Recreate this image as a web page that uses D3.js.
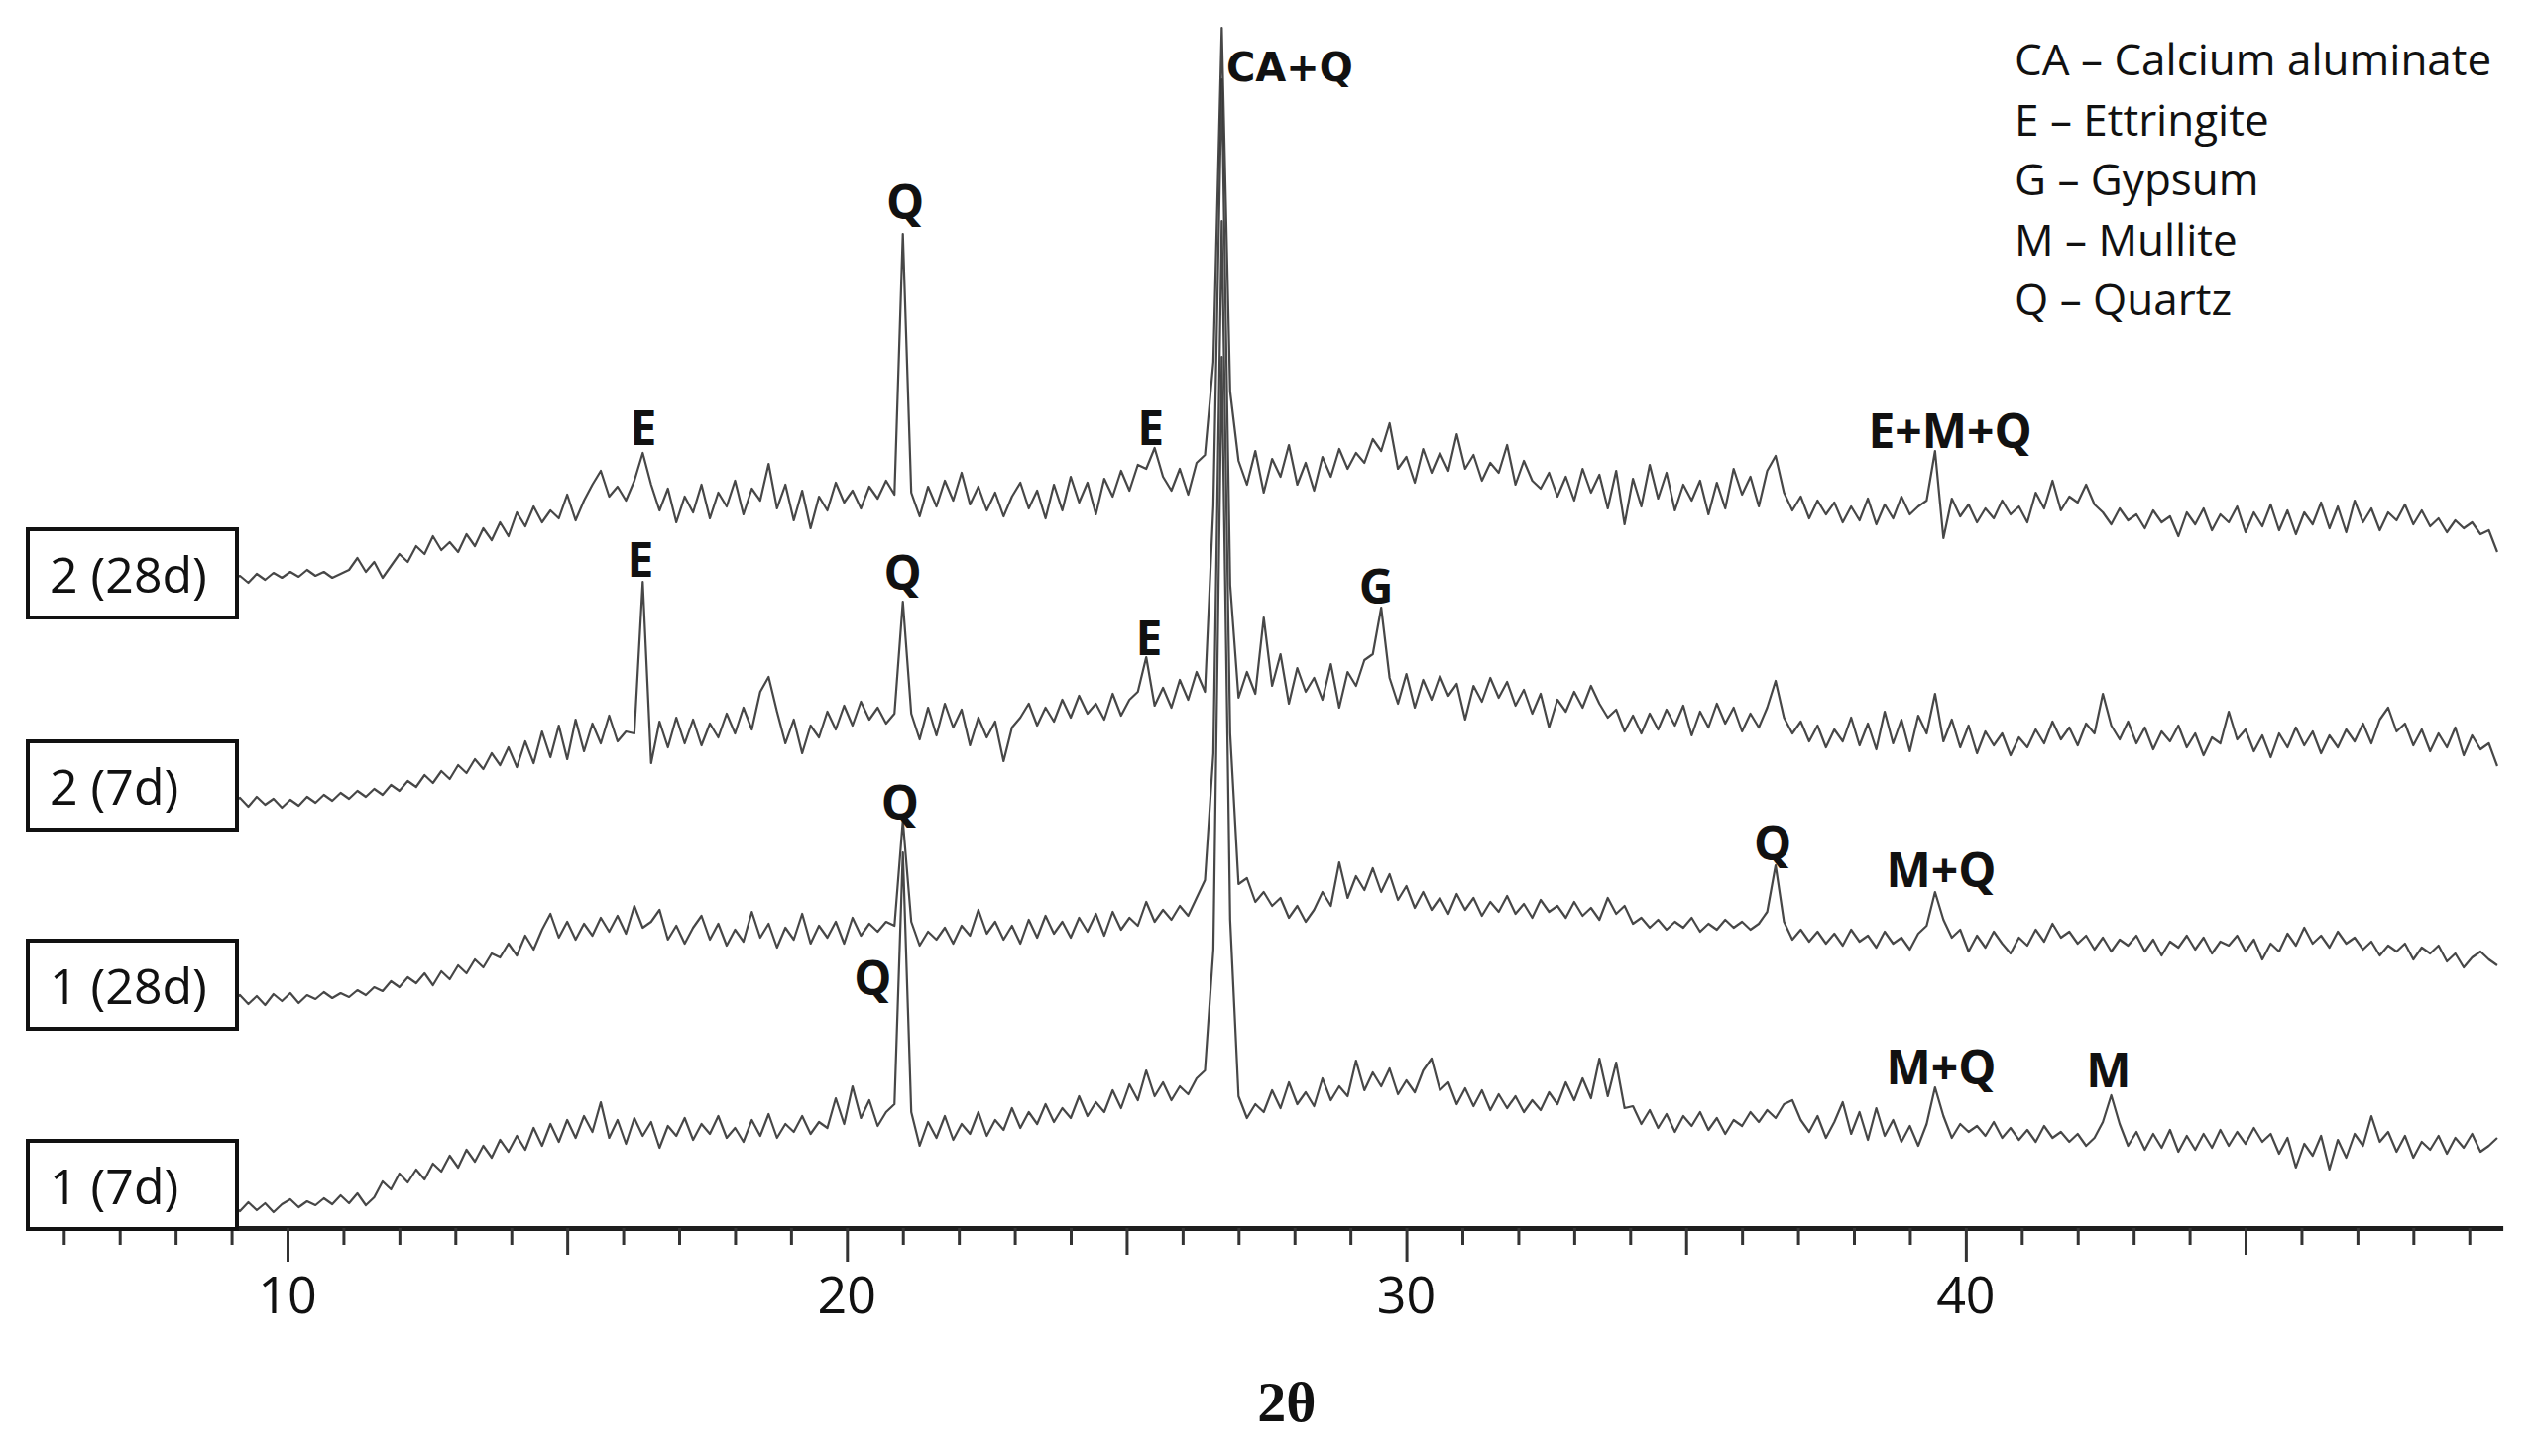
<!DOCTYPE html>
<html lang="en">
<head>
<meta charset="UTF-8">
<title>XRD patterns</title>
<script src="https://d3js.org/d3.v7.min.js"></script>
<style>
  body { margin: 0; background: #fff; }
  svg { display: block; }
</style>
</head>
<body>
<div id="chart"></div>
<script>
const width = 2557, height = 1469;

// scan settings (degrees 2-theta)
const angleStart = 9;
const angleStep = 0.15;

// samples, bottom to top, and the vertical shift of each pattern
const sampleLabels = ["1 (7d)", "1 (28d)", "2 (7d)", "2 (28d)"];
const sampleOffsets = [21, 229, 429, 654];

// intensities (a.u.)
const counts1d7 = [
  2, -4, 5, -3, 4, -5, 3, 8, 0, 6,
  2, 9, 3, 12, 4, 14, 2, 10, 26, 18,
  34, 25, 38, 28, 44, 36, 52, 40, 58, 46,
  62, 50, 68, 56, 72, 58, 80, 62, 84, 66,
  88, 70, 92, 76, 106, 70, 88, 64, 90, 72,
  86, 60, 82, 72, 90, 68, 84, 74, 92, 70,
  80, 66, 88, 72, 94, 70, 84, 76, 92, 74,
  86, 80, 110, 84, 122, 90, 108, 82, 96, 104,
  358, 96, 62, 86, 70, 92, 68, 84, 74, 96,
  72, 88, 78, 100, 80, 96, 84, 104, 86, 100,
  90, 112, 92, 106, 96, 118, 100, 124, 108, 138,
  112, 126, 108, 122, 114, 130, 138, 260, 858, 290,
  112, 90, 104, 96, 118, 100, 126, 104, 116, 102,
  130, 108, 122, 112, 148, 118, 136, 122, 140, 114,
  128, 116, 138, 150, 118, 126, 104, 120, 102, 118,
  98, 114, 100, 112, 96, 108, 98, 116, 104, 126,
  108, 130, 110, 150, 112, 146, 100, 102, 84, 98,
  80, 94, 76, 92, 82, 96, 78, 90, 74, 88,
  82, 96, 86, 98, 90, 104, 108, 88, 76, 92,
  70, 86, 106, 74, 96, 68, 100, 72, 88, 66,
  82, 62, 84, 121, 92, 70, 84, 76, 82, 72,
  86, 70, 80, 68, 78, 66, 82, 70, 76, 66,
  74, 62, 70, 86, 113, 84, 62, 76, 58, 74,
  60, 78, 56, 72, 58, 74, 60, 78, 62, 76,
  64, 80, 66, 74, 54, 70, 40, 64, 52, 72,
  38, 68, 50, 74, 62, 92, 66, 76, 56, 72,
  50, 66, 58, 72, 54, 70, 60, 74, 56, 62,
  70
];

const counts1d28 = [
  0, 6, -3, 5, -4, 7, 0, 8, -2, 6,
  2, 9, 3, 8, 4, 11, 6, 14, 10, 20,
  14, 24, 18, 28, 16, 30, 22, 36, 28, 42,
  34, 48, 44, 58, 46, 66, 52, 72, 88, 64,
  80, 62, 78, 66, 84, 70, 86, 68, 96, 74,
  80, 92, 62, 76, 58, 74, 86, 62, 78, 56,
  72, 60, 90, 64, 78, 54, 74, 62, 88, 58,
  76, 64, 80, 58, 84, 66, 78, 70, 80, 76,
  182, 80, 56, 70, 62, 74, 58, 76, 66, 92,
  68, 80, 62, 76, 58, 82, 64, 86, 68, 80,
  64, 84, 70, 88, 66, 90, 72, 84, 76, 100,
  80, 92, 82, 96, 86, 104, 122, 250, 787, 270,
  118, 124, 100, 110, 96, 104, 84, 96, 80, 92,
  110, 96, 140, 104, 126, 112, 134, 110, 128, 102,
  116, 94, 110, 92, 104, 88, 108, 92, 104, 86,
  100, 90, 106, 88, 98, 84, 102, 90, 96, 84,
  100, 86, 94, 82, 104, 88, 96, 78, 84, 74,
  82, 72, 80, 74, 84, 70, 78, 72, 82, 74,
  80, 72, 78, 90, 137, 80, 62, 72, 60, 70,
  58, 68, 56, 72, 60, 66, 54, 70, 58, 64,
  52, 68, 76, 110, 82, 64, 72, 50, 66, 54,
  70, 58, 48, 64, 56, 72, 60, 78, 64, 70,
  58, 66, 52, 64, 50, 62, 56, 66, 50, 62,
  46, 60, 54, 66, 52, 64, 48, 60, 56, 66,
  50, 62, 42, 58, 50, 68, 56, 74, 58, 66,
  54, 70, 58, 64, 52, 60, 46, 56, 50, 58,
  42, 54, 48, 56, 40, 48, 34, 44, 50, 42,
  36
];

const counts2d7 = [
  0, 5, -4, 6, -2, 4, -5, 3, -3, 6,
  0, 8, 2, 10, 4, 12, 6, 14, 8, 18,
  12, 22, 16, 28, 20, 32, 24, 38, 30, 44,
  34, 50, 38, 56, 36, 62, 40, 72, 46, 78,
  44, 84, 52, 80, 60, 88, 62, 72, 70, 223,
  40, 82, 56, 86, 60, 84, 58, 80, 66, 90,
  70, 96, 74, 112, 127, 92, 60, 84, 50, 78,
  66, 92, 74, 98, 78, 102, 84, 96, 80, 90,
  203, 90, 64, 96, 68, 100, 76, 94, 58, 86,
  66, 82, 42, 76, 86, 100, 78, 96, 82, 104,
  86, 108, 90, 100, 84, 110, 88, 104, 112, 147,
  98, 116, 96, 124, 104, 132, 112, 300, 730, 220,
  106, 132, 110, 187, 118, 150, 100, 136, 112, 126,
  104, 140, 96, 132, 118, 144, 150, 197, 126, 100,
  130, 96, 124, 104, 128, 108, 120, 84, 118, 102,
  126, 106, 122, 98, 114, 90, 110, 76, 104, 92,
  112, 96, 118, 100, 86, 94, 72, 88, 70, 90,
  74, 94, 78, 98, 68, 92, 76, 100, 80, 96,
  72, 90, 76, 96, 123, 86, 70, 82, 62, 78,
  56, 74, 62, 86, 58, 80, 54, 92, 60, 84,
  52, 88, 70, 110, 62, 84, 56, 78, 50, 72,
  58, 70, 48, 66, 56, 74, 60, 82, 64, 76,
  58, 80, 70, 110, 78, 64, 82, 60, 76, 54,
  72, 62, 78, 56, 70, 48, 66, 60, 92, 64,
  74, 52, 68, 46, 70, 56, 76, 58, 72, 50,
  68, 56, 74, 62, 80, 60, 84, 96, 72, 80,
  58, 74, 52, 70, 56, 76, 48, 68, 54, 60,
  37
];

const counts2d28 = [
  0, 4, -3, 6, 0, 7, 2, 8, 3, 10,
  4, 8, 2, 6, 10, 22, 8, 18, 2, 14,
  26, 18, 34, 26, 44, 30, 38, 28, 46, 34,
  52, 40, 58, 44, 68, 54, 74, 58, 70, 62,
  86, 60, 80, 96, 110, 84, 94, 80, 100, 128,
  96, 70, 92, 58, 84, 68, 96, 62, 88, 74,
  100, 66, 92, 80, 117, 72, 96, 60, 90, 52,
  84, 70, 98, 78, 90, 72, 94, 82, 100, 86,
  349, 88, 64, 94, 74, 100, 80, 108, 76, 94,
  70, 88, 64, 84, 98, 72, 90, 62, 96, 70,
  104, 78, 98, 66, 102, 84, 110, 90, 116, 112,
  133, 104, 90, 112, 86, 118, 126, 220, 557, 190,
  120, 96, 130, 88, 122, 104, 136, 96, 118, 90,
  124, 104, 132, 112, 128, 118, 142, 130, 158, 112,
  124, 98, 132, 108, 128, 110, 147, 112, 126, 100,
  118, 108, 136, 96, 120, 100, 92, 108, 84, 104,
  80, 112, 88, 106, 72, 110, 56, 102, 74, 116,
  82, 108, 70, 96, 80, 100, 66, 98, 72, 112,
  86, 104, 74, 110, 125, 88, 70, 84, 62, 80,
  66, 78, 58, 74, 60, 82, 56, 76, 62, 84,
  66, 74, 80, 130, 42, 82, 64, 76, 58, 72,
  62, 80, 66, 74, 58, 88, 72, 100, 70, 84,
  78, 96, 76, 68, 56, 72, 60, 66, 52, 70,
  58, 64, 44, 68, 56, 72, 50, 66, 58, 74,
  48, 68, 54, 76, 50, 70, 46, 68, 56, 78,
  52, 74, 48, 80, 58, 72, 50, 68, 60, 76,
  56, 70, 54, 62, 48, 60, 52, 58, 46, 50,
  28
];

const tickLabels = [10, 20, 30, 40];

const legendItems = [
  "CA \u2013 Calcium aluminate",
  "E \u2013 Ettringite",
  "G \u2013 Gypsum",
  "M \u2013 Mullite",
  "Q \u2013 Quartz"
];

// phase labels: text, 2-theta position, height (a.u.)
const peakText  = ["CA+Q", "Q", "E", "E", "E+M+Q", "E", "Q", "E", "G", "Q", "Q", "M+Q", "Q", "M+Q", "M"];
const peakAngle = [26.78, 21.04, 16.36, 25.43, 39.72, 16.31, 21.0, 25.4, 29.46, 20.95, 36.55, 39.56, 20.46, 39.56, 42.55];
const peakLevel = [1157, 1018, 790, 790, 787, 657, 644, 578, 630, 412, 371, 344, 235, 145, 142];

const series = [counts1d7, counts1d28, counts2d7, counts2d28];

const svg = d3.select("#chart")
    .append("svg")
    .attr("width", width)
    .attr("height", height)
    .style("background", "#fff");

const x = d3.scaleLinear().domain([5.35, 49.6]).range([27.6, 2524.6]);
const y = d3.scaleLinear().domain([0, 1200]).range([1239, 39]);

// x axis
const axis = d3.axisBottom(x)
    .tickValues(d3.range(6, 50))
    .tickSize(17)
    .tickSizeOuter(0)
    .tickFormat("");

const gx = svg.append("g")
    .attr("transform", `translate(0,${y(0)})`)
    .call(axis);

gx.select(".domain").attr("stroke", "#1e1e1e").attr("stroke-width", 5);
gx.selectAll(".tick line")
    .attr("stroke", "#333")
    .attr("stroke-width", 3)
    .attr("y2", d => d % 10 === 0 ? 34 : (d % 5 === 0 ? 27 : 17));

svg.append("g")
    .selectAll("text")
    .data(tickLabels)
    .join("text")
    .attr("x", d => x(d))
    .attr("y", y(0) + 86)
    .attr("text-anchor", "middle")
    .style("font-family", "'Open Sans', sans-serif")
    .style("font-size", "52px")
    .attr("fill", "#111")
    .text(d => d);

svg.append("text")
    .attr("x", 1298)
    .attr("y", 1434)
    .attr("text-anchor", "middle")
    .style("font-family", "'Liberation Serif', 'DejaVu Serif', serif")
    .style("font-weight", "bold")
    .style("font-size", "58px")
    .attr("fill", "#111")
    .text("2\u03B8");

// patterns
const line = d3.line()
    .x((d, i) => x(angleStart + i * angleStep))
    .y(d => d);

svg.append("g")
    .selectAll("path")
    .data(series)
    .join("path")
    .attr("d", (s, k) => line(s.map(v => y(sampleOffsets[k] + v))))
    .attr("fill", "none")
    .attr("stroke", "#333")
    .attr("stroke-opacity", 0.9)
    .attr("stroke-width", 2.2)
    .attr("stroke-linejoin", "round");

// sample boxes
const boxTops = [1151, 949, 748, 534];
const boxes = svg.append("g")
    .selectAll("g")
    .data(sampleLabels)
    .join("g");

boxes.append("rect")
    .attr("x", 28)
    .attr("y", (d, i) => boxTops[i])
    .attr("width", 211)
    .attr("height", 89)
    .attr("fill", "#fff")
    .attr("stroke", "#111")
    .attr("stroke-width", 4);

boxes.append("text")
    .attr("x", 50)
    .attr("y", (d, i) => boxTops[i] + 64)
    .style("font-family", "'Open Sans', sans-serif")
    .style("font-size", "50px")
    .attr("fill", "#111")
    .text(d => d);

// peak labels
svg.append("g")
    .selectAll("text")
    .data(peakText)
    .join("text")
    .attr("x", (d, i) => x(peakAngle[i]))
    .attr("y", (d, i) => y(peakLevel[i]))
    .attr("text-anchor", (d, i) => i === 0 ? "start" : "middle")
    .style("font-family", (d, i) => i === 0 ? "'DejaVu Sans', sans-serif" : "'Open Sans', sans-serif")
    .style("font-weight", "bold")
    .style("font-size", (d, i) => i === 0 ? "40px" : "48px")
    .attr("fill", "#111")
    .text(d => d);

// legend
svg.append("g")
    .selectAll("text")
    .data(legendItems)
    .join("text")
    .attr("x", 2032)
    .attr("y", (d, i) => 76 + i * 60.5)
    .style("font-family", "'Open Sans', sans-serif")
    .style("font-size", "44px")
    .attr("fill", "#111")
    .text(d => d);
</script>
</body>
</html>
